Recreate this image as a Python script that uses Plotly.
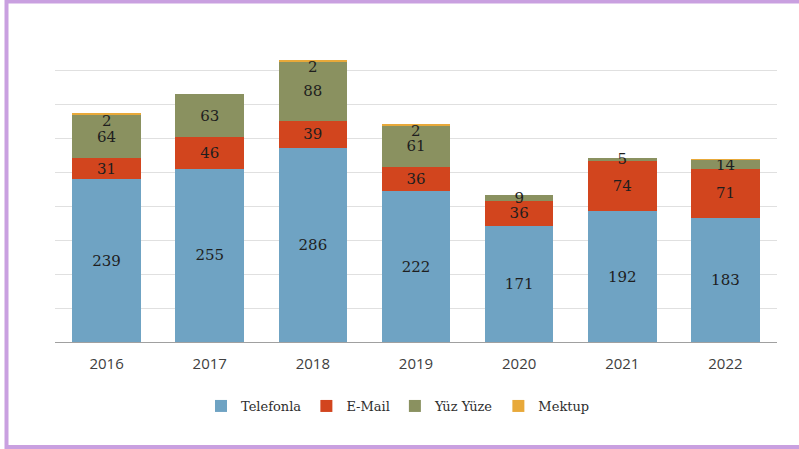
import plotly.graph_objects as go

years = ["2016", "2017", "2018", "2019", "2020", "2021", "2022"]
telefonla = [239, 255, 286, 222, 171, 192, 183]
email = [31, 46, 39, 36, 36, 74, 71]
yuz_yuze = [64, 63, 88, 61, 9, 5, 14]
mektup = [2, 0, 2, 2, 0, 0, 1]

series_names = ["Telefonla", "E-Mail", "Yüz Yüze", "Mektup"]
colors = ["#6fa3c3", "#d2451e", "#8a9160", "#e8a93a"]

W, H = 799, 449
ML, MR, MT, MB = 55, 22, 36, 107
pw = W - ML - MR
ph = H - MT - MB

label_font = dict(family="DejaVu Serif", size=15, color="#1e1e1e")

fig = go.Figure()
for name, vals, col in zip(series_names[:3], [telefonla, email, yuz_yuze], colors[:3]):
    fig.add_trace(go.Bar(
        x=years, y=vals, name=name,
        marker=dict(color=col, line=dict(width=0)),
        text=[str(v) for v in vals],
        textposition="inside", textangle=0, constraintext="none",
        insidetextanchor="middle",
        textfont=label_font,
        hoverinfo="skip",
    ))

fig.add_trace(go.Bar(
    x=years, y=mektup, name="Mektup",
    marker=dict(color=colors[3], line=dict(width=0)),
    hoverinfo="skip",
))

# Mektup labels just under the top of each stack (x given as category index)
totals = [a + b + c + d for a, b, c, d in zip(telefonla, email, yuz_yuze, mektup)]
for i, (m, tot) in enumerate(zip(mektup, totals)):
    if m >= 2:
        fig.add_annotation(x=i, y=tot, text=str(m), showarrow=False,
                           yanchor="top", yshift=4, font=label_font)

def px_x(px):
    return (px - ML) / pw

def px_y(py):
    return (H - MB - py) / ph

# purple frame
fig.add_shape(type="rect", xref="paper", yref="paper",
              x0=px_x(6.5), x1=px_x(803), y0=px_y(1.5), y1=px_y(447),
              line=dict(color="#c9a0e0", width=4), fillcolor="rgba(0,0,0,0)",
              layer="above")

fig.update_layout(
    width=W, height=H,
    margin=dict(l=ML, r=MR, t=MT, b=MB, autoexpand=False),
    barmode="stack",
    bargap=0.335,
    plot_bgcolor="white",
    paper_bgcolor="white",
    showlegend=True,
    legend=dict(orientation="h", x=px_x(398), xanchor="center", y=px_y(391),
                yanchor="top", font=dict(family="DejaVu Serif", size=13, color="#2e2e2e"),
                itemwidth=30, traceorder="normal"),
    xaxis=dict(type="category", categoryorder="array", categoryarray=years,
               range=[-0.5, len(years) - 0.5],
               showgrid=False, showline=True, linecolor="#a0a0a0", linewidth=1,
               ticks="", ticklabelstandoff=8,
               tickfont=dict(family="Open Sans", size=15, color="#404040")),
    yaxis=dict(range=[0, 450], dtick=50, showgrid=True, gridcolor="#e0e0e0",
               gridwidth=1, showticklabels=False, zeroline=False, showline=False),
)

fig.write_html("out.html", config={"displayModeBar": False},
               post_script="document.body.style.margin='0';document.body.style.overflow='hidden';")
